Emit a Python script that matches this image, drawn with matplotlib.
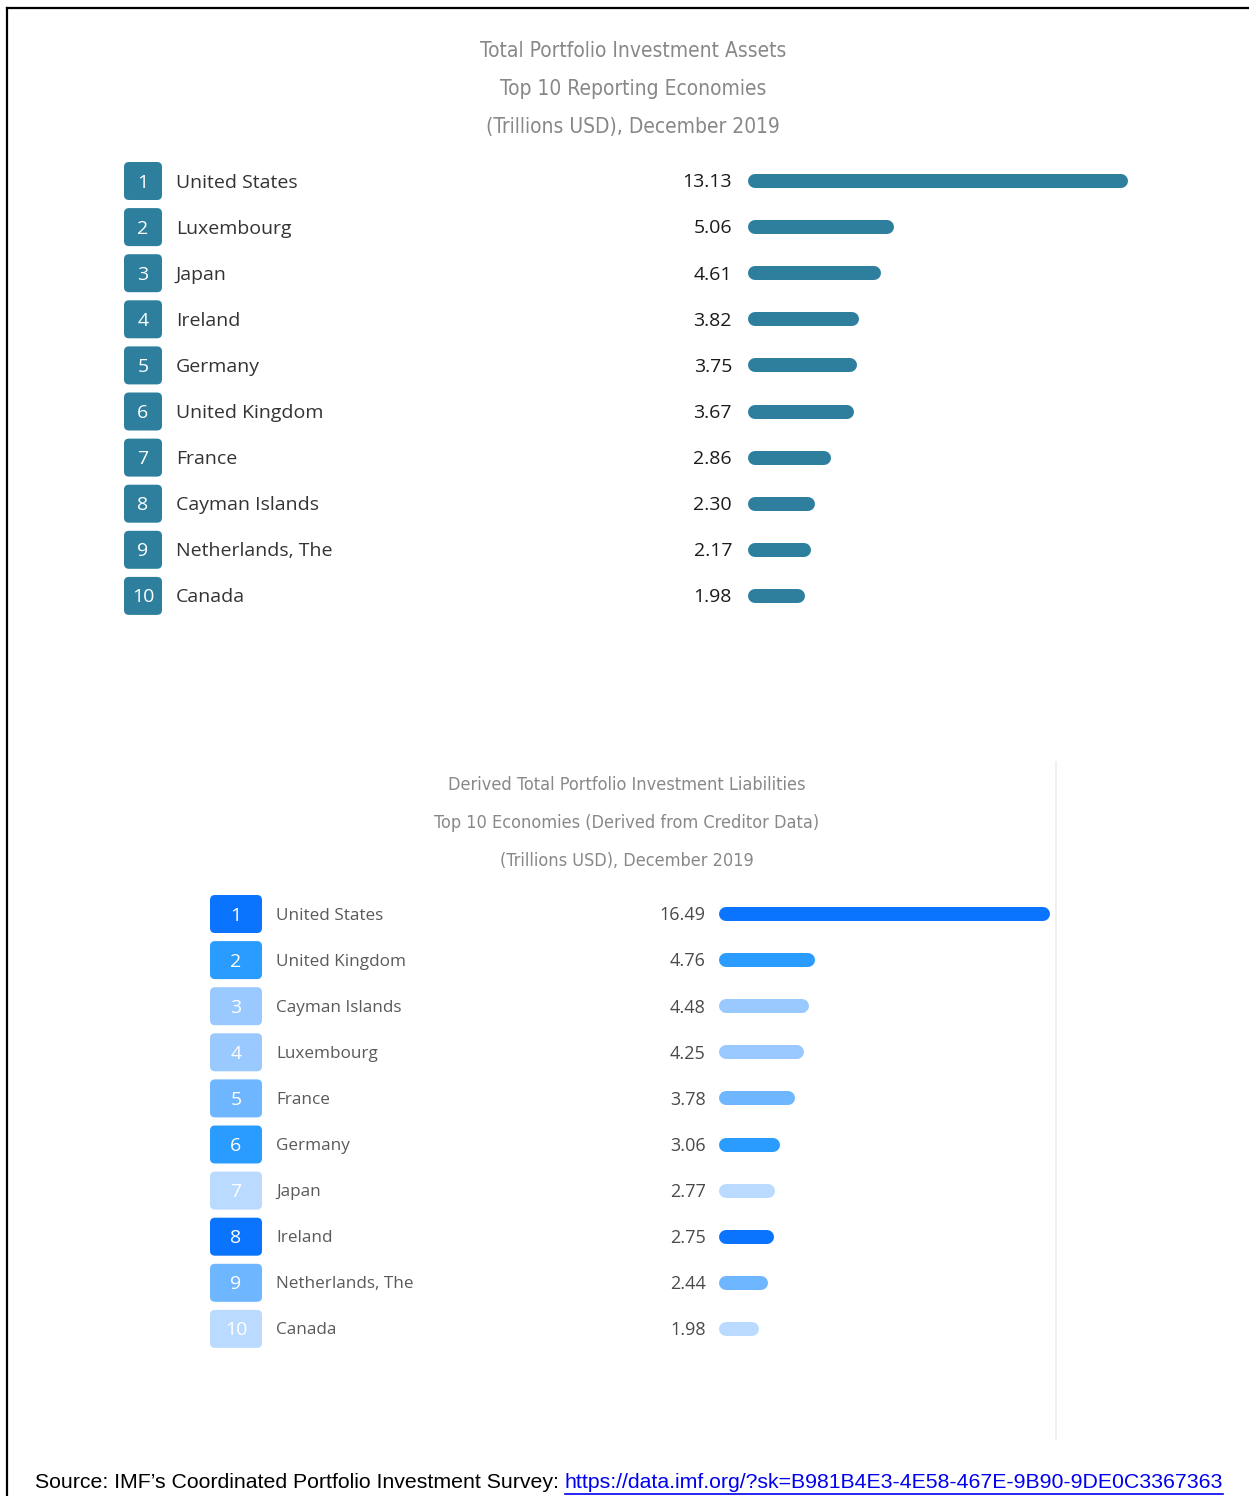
import matplotlib
matplotlib.use('Agg')
import matplotlib.pyplot as plt
from matplotlib.patches import FancyBboxPatch

W, H = 1249, 1496

# data
asset_title = ['Total Portfolio Investment Assets',
               'Top 10 Reporting Economies',
               '(Trillions USD), December 2019']
asset_countries = ['United States', 'Luxembourg', 'Japan', 'Ireland', 'Germany',
                   'United Kingdom', 'France', 'Cayman Islands', 'Netherlands, The', 'Canada']
asset_values = [13.13, 5.06, 4.61, 3.82, 3.75, 3.67, 2.86, 2.30, 2.17, 1.98]
asset_colors = ['#2d7f9d'] * 10

liab_title = ['Derived Total Portfolio Investment Liabilities',
              'Top 10 Economies (Derived from Creditor Data)',
              '(Trillions USD), December 2019']
liab_countries = ['United States', 'United Kingdom', 'Cayman Islands', 'Luxembourg', 'France',
                  'Germany', 'Japan', 'Ireland', 'Netherlands, The', 'Canada']
liab_values = [16.49, 4.76, 4.48, 4.25, 3.78, 3.06, 2.77, 2.75, 2.44, 1.98]
liab_colors = ['#0a74ff', '#2a9cff', '#99c9ff', '#99c9ff', '#6eb6ff',
               '#2a9cff', '#badbff', '#0a74ff', '#6eb6ff', '#badbff']

source_text = 'Source: IMF\u2019s Coordinated Portfolio Investment Survey: '
source_link = 'https://data.imf.org/?sk=B981B4E3-4E58-467E-9B90-9DE0C3367363'

ROW = 46.1
LABEL_FONT = 'Open Sans'
TITLE_FONT = 'DejaVu Sans'

fig = plt.figure(figsize=(W / 100, H / 100), dpi=100)
ax = fig.add_axes([0, 0, 1, 1])
ax.set_xlim(0, W)
ax.set_ylim(H, 0)
ax.axis('off')

# frame
ax.plot([7, 7], [8, H], color='black', lw=1.6)
ax.plot([7, W], [8, 8], color='black', lw=1.6)


def section(titles, title_x, title_y0, title_fs, names, values, colors, badge_x, badge_w,
            label_x, label_color, label_fs, value_color, value_fs, value_off,
            bar_x0, px_unit, row_y0, xmax_px):
    for k, t in enumerate(titles):
        ax.text(title_x, title_y0 + 38 * k, t, ha='center', va='center',
                color='#888888', fontsize=title_fs, family=TITLE_FONT,
                fontstretch='condensed')
    for i, (n, c) in enumerate(zip(names, colors)):
        y = row_y0 + ROW * i
        ax.add_patch(FancyBboxPatch((badge_x, y - 19), badge_w, 38,
                                    boxstyle='round,pad=0,rounding_size=5',
                                    fc=c, ec='none'))
        ax.text(badge_x + badge_w / 2, y + 1.5, str(i + 1), ha='center', va='center',
                color='white', fontsize=14, family=LABEL_FONT)
        ax.text(label_x, y + 1.5, n, ha='left', va='center', color=label_color,
                fontsize=label_fs, family=LABEL_FONT)

    top = row_y0 - ROW / 2
    bax = fig.add_axes([bar_x0 / W, 1 - (top + 10 * ROW) / H,
                        (xmax_px - bar_x0) / W, 10 * ROW / H])
    bax.set_xlim(0, (xmax_px - bar_x0) / px_unit)
    bax.set_ylim(9.5, -0.5)
    bax.axis('off')
    bax.patch.set_alpha(0)
    r = 7 / px_unit
    for i, (v, c) in enumerate(zip(values, colors)):
        bax.plot([r, v - r], [i, i], color=c, lw=14 * 0.72, solid_capstyle='round')
        bax.annotate(f'{v:.2f}', (0, i), xytext=(value_off, -1), textcoords='offset points',
                     ha='right', va='center', color=value_color, fontsize=value_fs,
                     family=LABEL_FONT, annotation_clip=False)


section(asset_title, 633, 51, 15, asset_countries, asset_values, asset_colors,
        124, 38, 176, '#333333', 14, '#1a1a1a', 14, -11.5, 748, 28.94, 181, 1240)
section(liab_title, 627, 785, 13, liab_countries, liab_values, liab_colors,
        210, 52, 276, '#5a5a5a', 12.3, '#4a4a4a', 13, -9.5, 719, 20.07, 914, 1050)

# thin separator on the right of the lower panel
ax.plot([1056, 1056], [762, 1440], color='#eeeeee', lw=1.2)

# source line
t1 = ax.text(35, 1483, source_text, ha='left', va='center', color='black',
             fontsize=15.3, family='Liberation Sans')
fig.canvas.draw()
bb = t1.get_window_extent()
t2 = ax.text(bb.x1, 1483, source_link, ha='left', va='center', color='#0000ee',
             fontsize=15.3, family='Liberation Sans')
fig.canvas.draw()
bb2 = t2.get_window_extent()
ax.plot([bb2.x0, bb2.x1], [1494, 1494], color='#0000ee', lw=1.2)

fig.savefig('out.png', dpi=100)
